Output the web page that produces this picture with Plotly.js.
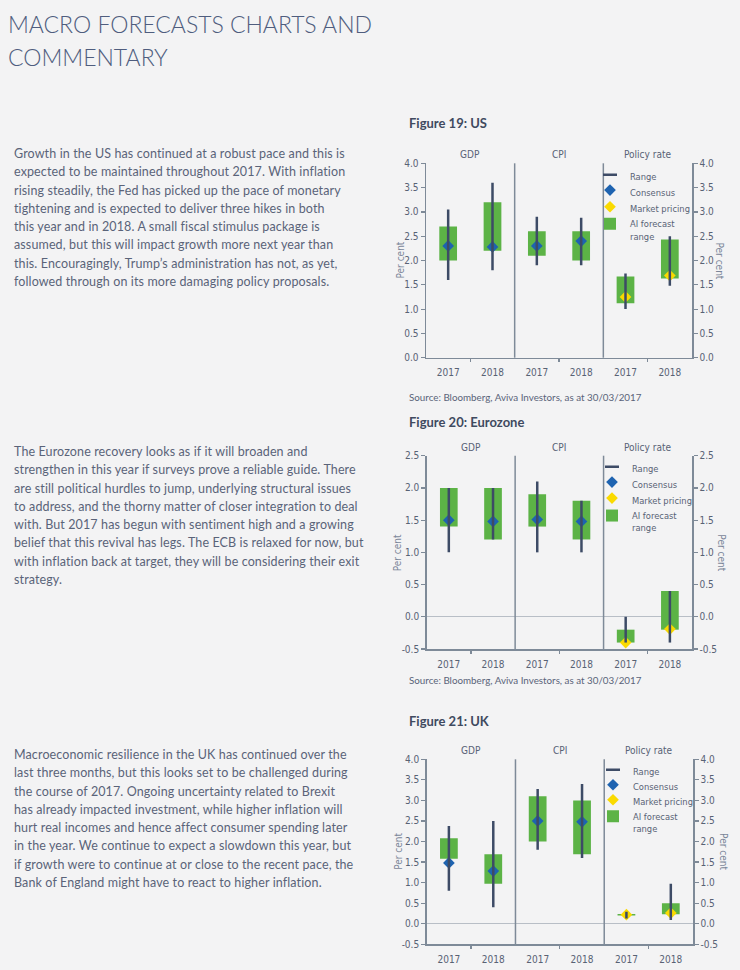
<!DOCTYPE html>
<html>
<head>
<meta charset="utf-8">
<script src="https://cdn.plot.ly/plotly-3.0.1.min.js"></script>
<style>
  body { margin: 0; background: #f3f3f4; }
  #wrap { position: relative; width: 740px; height: 970px; overflow: hidden; background: #f3f3f4; }
  #plot { position: absolute; left: 0; top: 0; width: 740px; height: 970px; }
  .h { position: absolute; left: 8px; top: 8px; font-family: Lato, "Open Sans", sans-serif; font-weight: 300;
       font-size: 23px; line-height: 33.3px; color: #4f5d7e; white-space: nowrap; }
  .p { position: absolute; left: 14px; font-family: Lato, "Open Sans", sans-serif; font-size: 12.5px;
       line-height: 18.3px; color: #5a6379; white-space: nowrap; }
  .ln { display: inline-block; white-space: nowrap; }
</style>
</head>
<body>
<div id="wrap">
  <div id="plot"></div>
  <div id="heading" class="h"></div>
  <div id="p1" class="p" style="top:145px"></div>
  <div id="p2" class="p" style="top:443px"></div>
  <div id="p3" class="p" style="top:746px"></div>
</div>
<script>
// ---------------- text content ----------------
const headingLines = ["MACRO FORECASTS CHARTS AND", "COMMENTARY"];
const para1 = [
  "Growth in the US has continued at a robust pace and this is",
  "expected to be maintained throughout 2017. With inflation",
  "rising steadily, the Fed has picked up the pace of monetary",
  "tightening and is expected to deliver three hikes in both",
  "this year and in 2018. A small fiscal stimulus package is",
  "assumed, but this will impact growth more next year than",
  "this. Encouragingly, Trump\u2019s administration has not, as yet,",
  "followed through on its more damaging policy proposals."
];
const para2 = [
  "The Eurozone recovery looks as if it will broaden and",
  "strengthen in this year if surveys prove a reliable guide. There",
  "are still political hurdles to jump, underlying structural issues",
  "to address, and the thorny matter of closer integration to deal",
  "with. But 2017 has begun with sentiment high and a growing",
  "belief that this revival has legs. The ECB is relaxed for now, but",
  "with inflation back at target, they will be considering their exit",
  "strategy."
];
const para3 = [
  "Macroeconomic resilience in the UK has continued over the",
  "last three months, but this looks set to be challenged during",
  "the course of 2017. Ongoing uncertainty related to Brexit",
  "has already impacted investment, while higher inflation will",
  "hurt real incomes and hence affect consumer spending later",
  "in the year. We continue to expect a slowdown this year, but",
  "if growth were to continue at or close to the recent pace, the",
  "Bank of England might have to react to higher inflation."
];

// ---------------- chart data ----------------
const categories = ["GDP", "CPI", "Policy rate"];
const years = ["2017", "2018"];
const seriesNames = ["Range", "Consensus", "Market pricing", "AI forecast<br>range"];
const sourceText = "Source: Bloomberg, Aviva Investors, as at 30/03/2017";

// Figure 19: US
const usRangeLow  = [1.6, 1.8, 1.9, 1.9, 1.0, 1.48];
const usRangeHigh = [3.05, 3.6, 2.9, 2.88, 1.73, 2.5];
const usAiLow     = [2.0, 2.2, 2.1, 2.0, 1.12, 1.63];
const usAiHigh    = [2.7, 3.2, 2.6, 2.6, 1.67, 2.43];
const usConsensus = [2.3, 2.28, 2.3, 2.4, null, null];
const usMarket    = [null, null, null, null, 1.25, 1.69];

// Figure 20: Eurozone
const ezRangeLow  = [1.0, 1.2, 1.0, 1.0, -0.4, -0.4];
const ezRangeHigh = [2.0, 2.0, 2.1, 1.8, 0.0, 0.4];
const ezAiLow     = [1.4, 1.2, 1.4, 1.2, -0.4, -0.2];
const ezAiHigh    = [2.0, 2.0, 1.9, 1.8, -0.2, 0.4];
const ezConsensus = [1.5, 1.48, 1.51, 1.48, null, null];
const ezMarket    = [null, null, null, null, -0.4, -0.19];

// Figure 21: UK
const ukRangeLow  = [0.8, 0.4, 1.8, 1.6, 0.13, 0.09];
const ukRangeHigh = [2.38, 2.5, 3.28, 3.4, 0.29, 0.97];
const ukAiLow     = [1.58, 0.97, 2.0, 1.69, 0.2, 0.23];
const ukAiHigh    = [2.08, 1.69, 3.1, 3.0, 0.24, 0.5];
const ukConsensus = [1.48, 1.28, 2.5, 2.48, null, null];
const ukMarket    = [null, null, null, null, 0.22, 0.26];

// ---------------- styling / layout ----------------
const W = 740, H = 970;
const GREEN = "#5cb346", BLUE = "#1e63b0", YELLOW = "#fada00", NAVY = "#3d4b66";
const AX = "#7e8a98", TXT = "#586274", ZERO = "#b8bec6";
const TICKFONT = "'DejaVu Sans Condensed', 'Liberation Sans', sans-serif";
const LABELFONT = "Lato, 'Open Sans', sans-serif";

const charts = [
  { title: "Figure 19: US", titleY: 123.3, source: true, sourceY: 396.7,
    xL: 426, xR: 692, yTop: 163.3, yBot: 357.7, range: [0, 4], zero: false,
    legX: 590, legY: [176.7, 192, 208.7, 230.3], ptL: 400, ptR: 719,
    lo: usRangeLow, hi: usRangeHigh, aiLo: usAiLow, aiHi: usAiHigh, cons: usConsensus, mkt: usMarket },
  { title: "Figure 20: Eurozone", titleY: 421.7, source: true, sourceY: 680,
    xL: 426.7, xR: 692, yTop: 455.7, yBot: 649, range: [-0.5, 2.5], zero: true,
    legX: 592, legY: [468.7, 484, 500, 522], ptL: 397, ptR: 722,
    lo: ezRangeLow, hi: ezRangeHigh, aiLo: ezAiLow, aiHi: ezAiHigh, cons: ezConsensus, mkt: ezMarket },
  { title: "Figure 21: UK", titleY: 721, source: false,
    xL: 426.7, xR: 693, yTop: 759.3, yBot: 944.3, range: [-0.5, 4], zero: true,
    legX: 593, legY: [771.7, 786.7, 801.7, 822.8], ptL: 399, ptR: 722.7,
    lo: ukRangeLow, hi: ukRangeHigh, aiLo: ukAiLow, aiHi: ukAiHigh, cons: ukConsensus, mkt: ukMarket }
];

const data = [];
const layout = {
  width: W, height: H, margin: { l: 0, r: 0, t: 0, b: 0 },
  paper_bgcolor: "#f3f3f4", plot_bgcolor: "rgba(0,0,0,0)",
  barmode: "overlay", showlegend: true, hovermode: false,
  font: { family: TICKFONT, size: 10, color: TXT },
  annotations: [], shapes: []
};

const nCat = categories.length * years.length;
const xs = [];
const yearLabels = [];
categories.forEach((c, ci) => years.forEach((y, yi) => { xs.push(ci * years.length + yi + 0.5); yearLabels.push(y); }));
const innerBounds = [];
categories.forEach((c, ci) => { for (let k = 1; k < years.length; k++) innerBounds.push(ci * years.length + k); });

charts.forEach((c, i) => {
  const xid = i === 0 ? "x" : "x" + (i + 1);
  const xkey = i === 0 ? "xaxis" : "xaxis" + (i + 1);
  const ylid = i === 0 ? "y" : "y" + (2 * i + 1);
  const ylkey = i === 0 ? "yaxis" : "yaxis" + (2 * i + 1);
  const yrid = "y" + (2 * i + 2);
  const yrkey = "yaxis" + (2 * i + 2);
  const legIds = [0, 1, 2, 3].map(j => { const n = i * 4 + j + 1; return n === 1 ? "legend" : "legend" + n; });

  // y ticks
  const tv = [], tt = [];
  for (let v = c.range[0]; v <= c.range[1] + 1e-9; v += 0.5) { tv.push(+v.toFixed(2)); tt.push(v.toFixed(1)); }

  layout[xkey] = {
    domain: [c.xL / W, c.xR / W], range: [0, nCat], anchor: ylid,
    tickmode: "array", tickvals: xs, ticktext: yearLabels,
    ticks: "outside", ticklen: 3, tickwidth: 1.2, tickcolor: "rgba(0,0,0,0)",
    minor: { tickmode: "array", tickvals: innerBounds, ticks: "outside", ticklen: 3, tickwidth: 1.2, tickcolor: AX, showgrid: false },
    showline: true, linecolor: AX, linewidth: 1.5, showgrid: false, zeroline: false,
    ticklabelstandoff: 2,
    tickfont: { family: TICKFONT, size: 10, color: TXT }, fixedrange: true
  };
  const yBase = {
    range: c.range, tickmode: "array", tickvals: tv, ticktext: tt,
    ticks: "outside", ticklen: 4, tickwidth: 1.2, tickcolor: AX,
    showline: true, linecolor: AX, linewidth: 1.5, showgrid: false,
    tickfont: { family: TICKFONT, size: 10, color: TXT }, fixedrange: true
  };
  layout[ylkey] = Object.assign({}, yBase, {
    domain: [1 - c.yBot / H, 1 - c.yTop / H], anchor: xid,
    zeroline: c.zero, zerolinecolor: ZERO, zerolinewidth: 1
  });
  layout[yrkey] = Object.assign({}, yBase, {
    overlaying: ylid, side: "right", anchor: xid, matches: ylid, zeroline: false
  });

  legIds.forEach((lid, j) => {
    layout[lid] = {
      x: c.legX / W, y: 1 - c.legY[j] / H, xanchor: "left", yanchor: "middle",
      bgcolor: "rgba(0,0,0,0)", borderwidth: 0, traceorder: "normal",
      itemwidth: 30, valign: "top",
      font: { family: TICKFONT, size: 9.3, color: TXT }
    };
  });

  // AI forecast range (bars)
  data.push({
    type: "bar", name: seriesNames[3], x: xs,
    base: c.aiLo, y: c.aiHi.map((h, k) => h - c.aiLo[k]),
    width: 0.4, marker: { color: GREEN, line: { width: 0 } },
    xaxis: xid, yaxis: ylid, legend: legIds[3], showlegend: true
  });
  // Consensus
  data.push({
    type: "scatter", mode: "markers", name: seriesNames[1], x: xs, y: c.cons,
    marker: { symbol: "diamond", size: 9, color: BLUE, line: { width: 0 } },
    xaxis: xid, yaxis: ylid, legend: legIds[1], showlegend: true
  });
  // Market pricing
  data.push({
    type: "scatter", mode: "markers", name: seriesNames[2], x: xs, y: c.mkt,
    marker: { symbol: "diamond", size: 9, color: YELLOW, line: { width: 0 } },
    xaxis: xid, yaxis: ylid, legend: legIds[2], showlegend: true
  });
  // Range lines (drawn on the matched right axis, so on top)
  const lx = [], ly = [];
  xs.forEach((x, k) => { lx.push(x, x, null); ly.push(c.lo[k], c.hi[k], null); });
  data.push({
    type: "scatter", mode: "lines", name: seriesNames[0], x: lx, y: ly,
    line: { color: NAVY, width: 2.5 },
    xaxis: xid, yaxis: yrid, showlegend: false
  });
  // Legend entry for range (short horizontal dash)
  data.push({
    type: "scatter", mode: "markers", name: seriesNames[0], x: [xs[0]], y: [null],
    marker: { symbol: "line-ew", size: 10, color: NAVY, line: { width: 2.5, color: NAVY } },
    xaxis: xid, yaxis: ylid, legend: legIds[0], showlegend: true
  });

  // panel dividers
  for (let p = 1; p < categories.length; p++) {
    layout.shapes.push({
      type: "line", xref: xid, yref: ylid + " domain",
      x0: p * years.length, x1: p * years.length, y0: 0, y1: 1,
      line: { color: AX, width: 1.5 }
    });
  }
  // panel labels
  categories.forEach((cat, p) => {
    layout.annotations.push({
      xref: xid, yref: ylid + " domain", x: p * years.length + years.length / 2, y: 1,
      xanchor: "center", yanchor: "bottom", yshift: 1, showarrow: false, text: cat,
      font: { family: TICKFONT, size: 10, color: TXT }
    });
  });
  // axis titles
  layout.annotations.push({
    xref: "paper", yref: ylid + " domain", x: c.ptL / W, y: 0.5, xanchor: "center", yanchor: "middle",
    showarrow: false, text: "Per cent", textangle: -90, font: { family: TICKFONT, size: 10, color: "#7b8699" }
  });
  layout.annotations.push({
    xref: "paper", yref: ylid + " domain", x: c.ptR / W, y: 0.5, xanchor: "center", yanchor: "middle",
    showarrow: false, text: "Per cent", textangle: 90, font: { family: TICKFONT, size: 10, color: "#7b8699" }
  });
  // figure title
  layout.annotations.push({
    xref: "paper", yref: "paper", x: 407 / W, y: 1 - c.titleY / H, xanchor: "left", yanchor: "middle",
    showarrow: false, text: c.title,
    font: { family: LABELFONT, size: 13, weight: 700, color: "#3f4a5f" }
  });
  if (c.source) {
    layout.annotations.push({
      xref: "paper", yref: "paper", x: 407 / W, y: 1 - c.sourceY / H, xanchor: "left", yanchor: "middle",
      showarrow: false, text: sourceText,
      font: { family: LABELFONT, size: 9.8, color: "#5a6379" }
    });
  }
});

Plotly.newPlot("plot", data, layout, { staticPlot: true, displayModeBar: false });

// ---------------- HTML text ----------------
function fill(id, lines) {
  const el = document.getElementById(id);
  el.innerHTML = "";
  lines.forEach((t, k) => {
    const s = document.createElement("span");
    s.className = "ln"; s.textContent = t;
    el.appendChild(s);
    if (k < lines.length - 1) el.appendChild(document.createElement("br"));
  });
  return el;
}
const hEl = fill("heading", headingLines);
const p1 = fill("p1", para1), p2 = fill("p2", para2), p3 = fill("p3", para3);

function fitSpacing(el, target) {
  const first = el.querySelector(".ln");
  el.style.letterSpacing = "0px";
  const w = first.getBoundingClientRect().width;
  const n = first.textContent.length;
  return (target - w) / n;
}
document.fonts.ready.then(() => {
  const lsH = fitSpacing(hEl, 364);
  hEl.style.letterSpacing = lsH + "px";
  const ls = fitSpacing(p1, 331);
  [p1, p2, p3].forEach(e => e.style.letterSpacing = ls + "px");
});
</script>
</body>
</html>
